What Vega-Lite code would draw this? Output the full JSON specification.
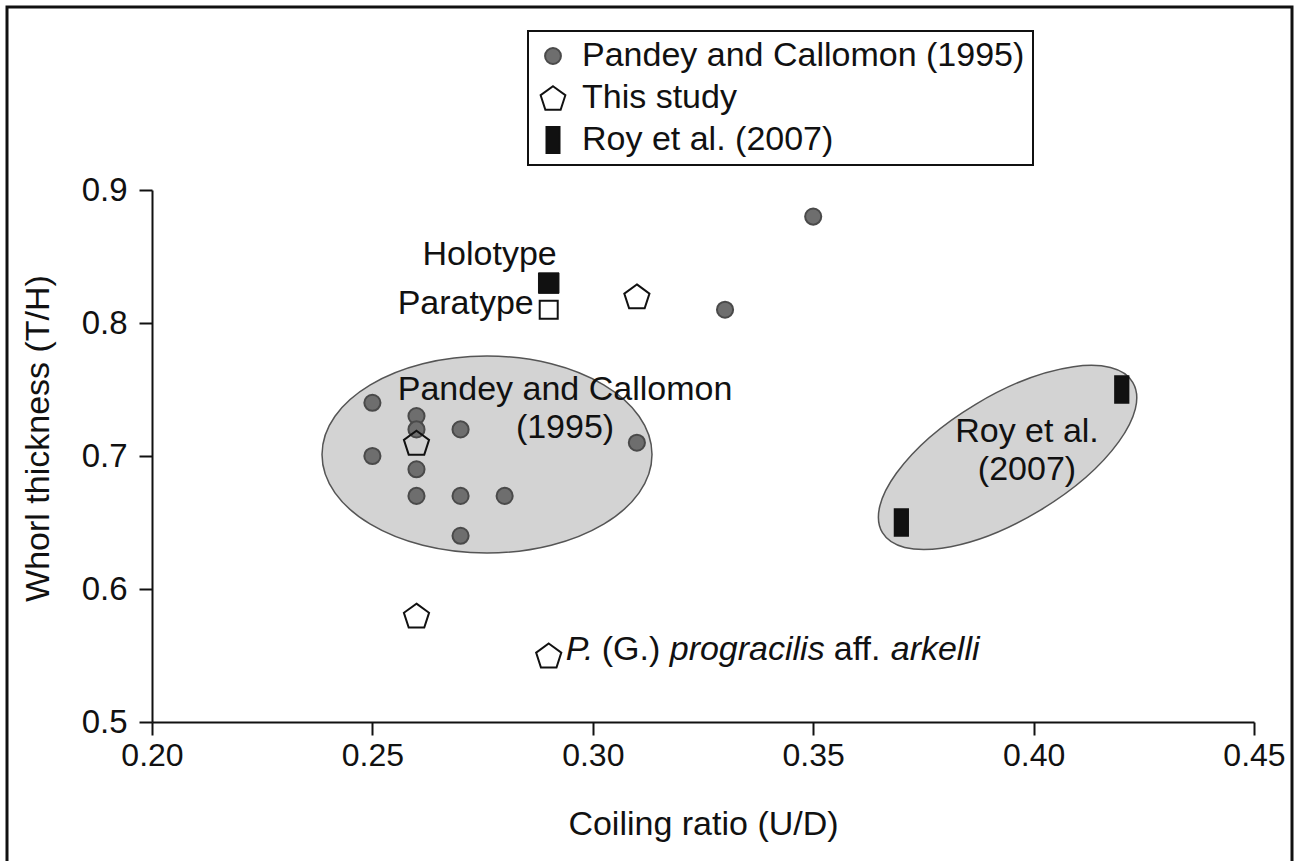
{
  "$schema": "https://vega.github.io/schema/vega-lite/v6.json",
  "width": 1285,
  "height": 860,
  "autosize": {"type": "none"},
  "padding": {"left": 7, "top": 7, "right": 9, "bottom": -6},
  "background": "white",
  "config": {
    "view": {"stroke": "#111111", "strokeWidth": 3},
    "font": "Liberation Sans",
    "axis": {
      "domainColor": "#111111", "domainWidth": 2,
      "tickColor": "#111111", "tickWidth": 2, "tickSize": 13,
      "labelColor": "#111111", "titleColor": "#111111",
      "titleFontWeight": "normal", "titleFontSize": 34,
      "labelFont": "Liberation Sans", "titleFont": "Liberation Sans",
      "grid": false
    },
    "legend": {"strokeColor": "#111111", "strokeWidth": 2}
  },
  "datasets": {
    "points": [
      {"u": 0.25, "t": 0.74, "series": "Pandey and Callomon (1995)"},
      {"u": 0.25, "t": 0.70, "series": "Pandey and Callomon (1995)"},
      {"u": 0.26, "t": 0.73, "series": "Pandey and Callomon (1995)"},
      {"u": 0.26, "t": 0.72, "series": "Pandey and Callomon (1995)"},
      {"u": 0.26, "t": 0.69, "series": "Pandey and Callomon (1995)"},
      {"u": 0.26, "t": 0.67, "series": "Pandey and Callomon (1995)"},
      {"u": 0.27, "t": 0.72, "series": "Pandey and Callomon (1995)"},
      {"u": 0.27, "t": 0.67, "series": "Pandey and Callomon (1995)"},
      {"u": 0.27, "t": 0.64, "series": "Pandey and Callomon (1995)"},
      {"u": 0.28, "t": 0.67, "series": "Pandey and Callomon (1995)"},
      {"u": 0.31, "t": 0.71, "series": "Pandey and Callomon (1995)"},
      {"u": 0.33, "t": 0.81, "series": "Pandey and Callomon (1995)"},
      {"u": 0.35, "t": 0.88, "series": "Pandey and Callomon (1995)"},
      {"u": 0.37, "t": 0.65, "series": "Roy et al. (2007)"},
      {"u": 0.42, "t": 0.75, "series": "Roy et al. (2007)"},
      {"u": 0.26, "t": 0.71, "series": "This study"},
      {"u": 0.31, "t": 0.82, "series": "This study"},
      {"u": 0.26, "t": 0.58, "series": "This study"},
      {"u": 0.29, "t": 0.55, "series": "This study"}
    ],
    "groups": [
      {"u": 0.2760, "t": 0.7011, "group": "Pandey and Callomon (1995)"},
      {"u": 0.3941, "t": 0.6989, "group": "Roy et al. (2007)"}
    ],
    "types": [
      {"u": 0.29, "t": 0.83, "type": "Holotype"},
      {"u": 0.29, "t": 0.81, "type": "Paratype"}
    ]
  },
  "layer": [
    {
      "data": {"name": "groups"},
      "transform": [{"filter": "datum.group === 'Pandey and Callomon (1995)'"}],
      "mark": {"type": "point", "shape": "M -1 0 A 1 0.597 0 1 0 1 0 A 1 0.597 0 1 0 -1 0 Z", "size": 108900, "fill": "#d3d3d3", "stroke": "#555555", "strokeWidth": 1.5, "opacity": 1},
      "encoding": {
        "x": {"field": "u", "type": "quantitative", "scale": {"domain": [0.2, 0.45], "range": [145, 1247], "nice": false, "zero": false},
          "axis": {"title": "Coiling ratio (U/D)", "values": [0.2, 0.25, 0.3, 0.35, 0.4, 0.45], "format": ".2f", "labelFontSize": 32, "labelPadding": 5, "titlePadding": 36, "offset": -145, "labelFlush": false, "labelOverlap": false}},
        "y": {"field": "t", "type": "quantitative", "scale": {"domain": [0.5, 0.9], "range": [715, 183], "nice": false, "zero": false},
          "axis": {"title": "Whorl thickness (T/H)", "values": [0.5, 0.6, 0.7, 0.8, 0.9], "format": ".1f", "labelFontSize": 33, "labelPadding": 12, "titlePadding": 26, "offset": -145, "labelOverlap": false, "titleY": 431}}
      }
    },
    {
      "data": {"name": "groups"},
      "transform": [{"filter": "datum.group === 'Roy et al. (2007)'"}],
      "mark": {"type": "point", "shape": "M -1 0 A 1 0.425 0 1 0 1 0 A 1 0.425 0 1 0 -1 0 Z", "size": 85264, "angle": -31, "fill": "#d3d3d3", "stroke": "#555555", "strokeWidth": 1.5, "opacity": 1},
      "encoding": {
        "x": {"field": "u", "type": "quantitative"},
        "y": {"field": "t", "type": "quantitative"}
      }
    },
    {
      "data": {"name": "points"},
      "mark": {"type": "point", "size": 700, "strokeWidth": 2, "opacity": 1},
      "encoding": {
        "x": {"field": "u", "type": "quantitative"},
        "y": {"field": "t", "type": "quantitative"},
        "shape": {"field": "series", "type": "nominal",
          "scale": {"domain": ["Pandey and Callomon (1995)", "This study", "Roy et al. (2007)"],
            "range": ["M -0.61 0 A 0.61 0.61 0 1 0 0.61 0 A 0.61 0.61 0 1 0 -0.61 0 Z", "M 0 -0.905 L 0.951 -0.214 L 0.588 0.904 L -0.588 0.904 L -0.951 -0.214 Z", "M -0.5 -1 L 0.5 -1 L 0.5 1 L -0.5 1 Z"]},
          "legend": {"title": null, "orient": "none", "legendX": 521, "legendY": 24, "padding": 8, "labelFontSize": 34, "labelColor": "#111111", "labelFont": "Liberation Sans", "labelLimit": 0, "symbolSize": 676, "symbolStrokeWidth": 2, "rowPadding": 8, "labelOffset": 12, "symbolOpacity": 1, "strokeColor": "#111111"}},
        "fill": {"field": "series", "type": "nominal",
          "scale": {"domain": ["Pandey and Callomon (1995)", "This study", "Roy et al. (2007)"], "range": ["#6e6e6e", "transparent", "#111111"]},
          "legend": {"title": null, "orient": "none", "legendX": 521, "legendY": 24, "padding": 8, "labelFontSize": 34, "labelColor": "#111111", "labelFont": "Liberation Sans", "labelLimit": 0, "symbolSize": 676, "symbolStrokeWidth": 2, "rowPadding": 8, "labelOffset": 12, "symbolOpacity": 1, "strokeColor": "#111111"}},
        "stroke": {"field": "series", "type": "nominal",
          "scale": {"domain": ["Pandey and Callomon (1995)", "This study", "Roy et al. (2007)"], "range": ["#4a4a4a", "#111111", "#111111"]},
          "legend": {"title": null, "orient": "none", "legendX": 521, "legendY": 24, "padding": 8, "labelFontSize": 34, "labelColor": "#111111", "labelFont": "Liberation Sans", "labelLimit": 0, "symbolSize": 676, "symbolStrokeWidth": 2, "rowPadding": 8, "labelOffset": 12, "symbolOpacity": 1, "strokeColor": "#111111"}}
      }
    },
    {
      "data": {"name": "types"},
      "transform": [{"filter": "datum.type === 'Holotype'"}],
      "mark": {"type": "point", "shape": "square", "size": 420, "fill": "#111111", "stroke": "#111111", "strokeWidth": 1, "opacity": 1},
      "encoding": {
        "x": {"field": "u", "type": "quantitative"},
        "y": {"field": "t", "type": "quantitative"}
      }
    },
    {
      "data": {"name": "types"},
      "transform": [{"filter": "datum.type === 'Paratype'"}],
      "mark": {"type": "point", "shape": "square", "size": 324, "fill": "white", "stroke": "#111111", "strokeWidth": 2, "opacity": 1},
      "encoding": {
        "x": {"field": "u", "type": "quantitative"},
        "y": {"field": "t", "type": "quantitative"}
      }
    },
    {
      "data": {"name": "types"},
      "transform": [{"filter": "datum.type === 'Holotype'"}],
      "mark": {"type": "text", "align": "right", "baseline": "alphabetic", "dx": 8, "dy": -18, "fontSize": 34, "font": "Liberation Sans", "color": "#111111"},
      "encoding": {
        "x": {"field": "u", "type": "quantitative"},
        "y": {"field": "t", "type": "quantitative"},
        "text": {"field": "type"}
      }
    },
    {
      "data": {"name": "types"},
      "transform": [{"filter": "datum.type === 'Paratype'"}],
      "mark": {"type": "text", "align": "right", "baseline": "alphabetic", "dx": -15, "dy": 4, "fontSize": 34, "font": "Liberation Sans", "color": "#111111"},
      "encoding": {
        "x": {"field": "u", "type": "quantitative"},
        "y": {"field": "t", "type": "quantitative"},
        "text": {"field": "type"}
      }
    },
    {
      "data": {"values": [
        {"u": 0.2937, "t": 0.7493, "label": "Pandey and Callomon\n(1995)"},
        {"u": 0.3985, "t": 0.7181, "label": "Roy et al.\n(2007)"}
      ]},
      "mark": {"type": "text", "align": "center", "baseline": "middle", "lineBreak": "\n", "lineHeight": 38, "fontSize": 34, "font": "Liberation Sans", "color": "#111111"},
      "encoding": {
        "x": {"field": "u", "type": "quantitative"},
        "y": {"field": "t", "type": "quantitative"},
        "text": {"field": "label"}
      }
    },
    {
      "data": {"values": [{"u": 0.29, "t": 0.55, "label": "P."}]},
      "mark": {"type": "text", "align": "left", "baseline": "alphabetic", "dx": 17, "dy": 4.5, "fontSize": 34, "fontStyle": "italic", "font": "Liberation Sans", "color": "#111111"},
      "encoding": {"x": {"field": "u", "type": "quantitative"}, "y": {"field": "t", "type": "quantitative"}, "text": {"field": "label"}}
    },
    {
      "data": {"values": [{"u": 0.29, "t": 0.55, "label": "(G.)"}]},
      "mark": {"type": "text", "align": "left", "baseline": "alphabetic", "dx": 53, "dy": 4.5, "fontSize": 34, "font": "Liberation Sans", "color": "#111111"},
      "encoding": {"x": {"field": "u", "type": "quantitative"}, "y": {"field": "t", "type": "quantitative"}, "text": {"field": "label"}}
    },
    {
      "data": {"values": [{"u": 0.29, "t": 0.55, "label": "progracilis"}]},
      "mark": {"type": "text", "align": "left", "baseline": "alphabetic", "dx": 121, "dy": 4.5, "fontSize": 34, "fontStyle": "italic", "font": "Liberation Sans", "color": "#111111"},
      "encoding": {"x": {"field": "u", "type": "quantitative"}, "y": {"field": "t", "type": "quantitative"}, "text": {"field": "label"}}
    },
    {
      "data": {"values": [{"u": 0.29, "t": 0.55, "label": "aff."}]},
      "mark": {"type": "text", "align": "left", "baseline": "alphabetic", "dx": 285, "dy": 4.5, "fontSize": 34, "font": "Liberation Sans", "color": "#111111"},
      "encoding": {"x": {"field": "u", "type": "quantitative"}, "y": {"field": "t", "type": "quantitative"}, "text": {"field": "label"}}
    },
    {
      "data": {"values": [{"u": 0.29, "t": 0.55, "label": "arkelli"}]},
      "mark": {"type": "text", "align": "left", "baseline": "alphabetic", "dx": 342, "dy": 4.5, "fontSize": 34, "fontStyle": "italic", "font": "Liberation Sans", "color": "#111111"},
      "encoding": {"x": {"field": "u", "type": "quantitative"}, "y": {"field": "t", "type": "quantitative"}, "text": {"field": "label"}}
    }
  ]
}
